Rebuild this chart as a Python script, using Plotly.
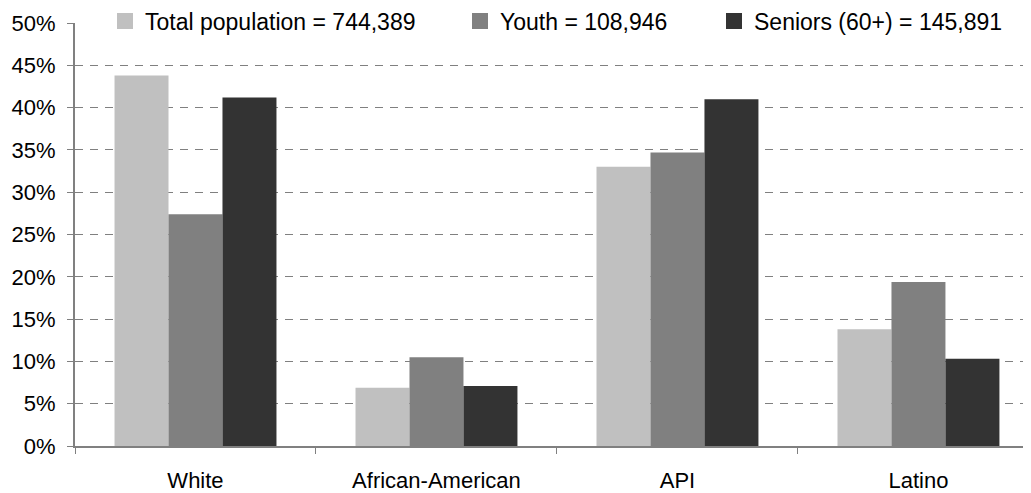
import plotly.graph_objects as go

categories = ["White", "African-American", "API", "Latino"]
total_pop = [43.8, 6.9, 33.0, 13.8]
youth = [27.4, 10.5, 34.7, 19.4]
seniors = [41.2, 7.1, 41.0, 10.3]
series_names = ["Total population = 744,389", "Youth = 108,946", "Seniors (60+) = 145,891"]
y_ticks = [0, 5, 10, 15, 20, 25, 30, 35, 40, 45, 50]
y_tick_labels = ["0%", "5%", "10%", "15%", "20%", "25%", "30%", "35%", "40%", "45%", "50%"]
grid_ticks = [5, 10, 15, 20, 25, 30, 35, 40, 45]

colors = ["#C0C0C0", "#808080", "#333333"]
FONT = "Liberation Sans, Arial, sans-serif"

# page body has an 8px default margin, so the figure is sized to fit the window
W, H = 1023, 485

fig = go.Figure()
for vals, name, col in zip([total_pop, youth, seniors], series_names, colors):
    fig.add_trace(go.Bar(x=categories, y=vals, name=name, marker_color=col,
                         marker_line_width=0, showlegend=False, hoverinfo="y"))

# helper trace so the grid axis gets drawn
fig.add_trace(go.Scatter(x=[None], y=[None], yaxis="y2", showlegend=False,
                         hoverinfo="skip", mode="markers"))

legend_ids = ["legend", "legend2", "legend3"]
for name, col, lg in zip(series_names, colors, legend_ids):
    fig.add_trace(go.Scatter(x=[None], y=[None], mode="markers", name=name,
                             marker=dict(symbol="square", size=16, color=col),
                             legend=lg, showlegend=True))

leg_common = dict(orientation="h", yanchor="middle", y=1 - 13 / H, yref="container",
                  xanchor="left", xref="container",
                  bgcolor="rgba(0,0,0,0)", font=dict(family=FONT, size=23, color="#000"),
                  itemwidth=30, borderwidth=0)

fig.update_layout(
    width=W, height=H,
    margin=dict(l=67, r=0, t=15, b=47, autoexpand=False),
    paper_bgcolor="white", plot_bgcolor="white",
    font=dict(family=FONT, size=22, color="#000"),
    barmode="group", bargap=0.328, bargroupgap=0,
    legend=dict(x=97 / W, **leg_common),
    legend2=dict(x=452 / W, **leg_common),
    legend3=dict(x=706 / W, **leg_common),
    xaxis=dict(range=[-0.5, 3.467], showline=True, linecolor="#808080", linewidth=2,
               ticks="outside", tickson="boundaries", ticklen=6, tickcolor="#808080",
               tickwidth=1, showgrid=False, ticklabelstandoff=14,
               tickfont=dict(family=FONT, size=22, color="#000")),
    yaxis=dict(range=[0, 50], tickvals=y_ticks, ticktext=y_tick_labels, showgrid=False,
               showline=True, linecolor="#808080", linewidth=2,
               ticks="outside", ticklen=6, tickcolor="#808080", tickwidth=1,
               zeroline=False, ticklabelstandoff=7,
               tickfont=dict(family=FONT, size=22, color="#000")),
    yaxis2=dict(range=[0, 50], overlaying="y", anchor="x", side="left",
                tickvals=grid_ticks, showticklabels=False, ticks="",
                showgrid=True, gridcolor="#808080", gridwidth=1, griddash="8px,7px",
                showline=False, zeroline=False),
)

fig.write_html("out.html")
